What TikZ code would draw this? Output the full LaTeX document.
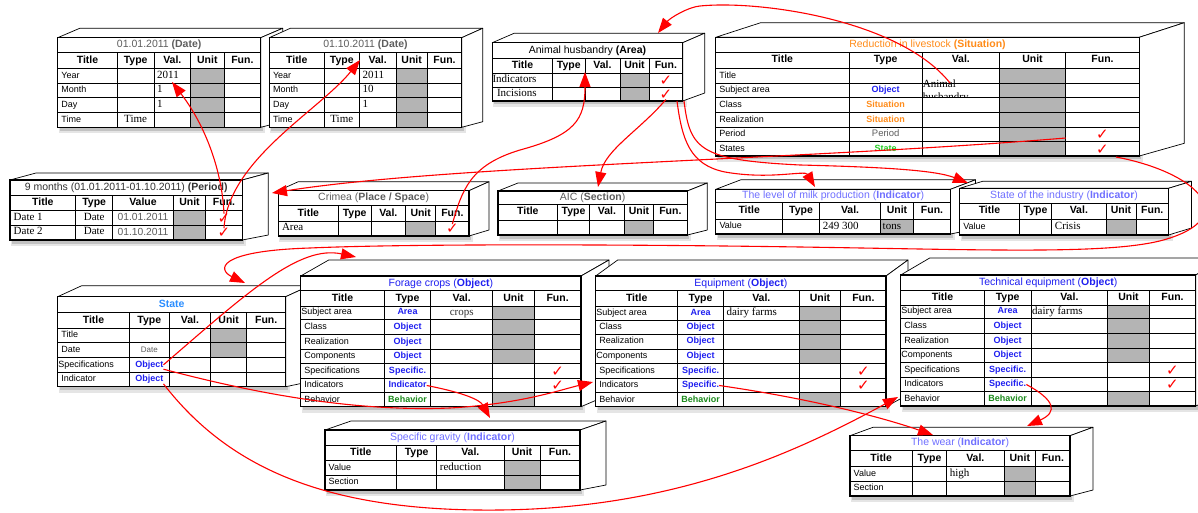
\documentclass[tikz,border=0pt]{standalone}
\usepackage{fontspec}
\setmainfont{Liberation Sans}
\newfontfamily\valfont{Liberation Serif}
\newfontfamily\tickfont{DejaVu Sans}
\usetikzlibrary{arrows.meta}

\definecolor{cellgrey}{HTML}{B4B4B4}
\definecolor{objblue}{HTML}{1F1FF0}
\definecolor{sitorange}{HTML}{FF8C1A}
\definecolor{stgreen}{HTML}{22CC22}
\definecolor{behgreen}{HTML}{1A8A1A}
\definecolor{indviolet}{HTML}{7070FF}
\definecolor{statblue}{HTML}{2B8EFF}
\definecolor{titlegrey}{HTML}{5E5E5E}
\definecolor{linkred}{HTML}{FF0000}

\tikzset{
  boxface/.style={fill=white, draw=black, line width=0.7pt, line join=round},
  frame/.style={draw=black, line width=1.2pt, inner sep=0pt, outer sep=0pt, anchor=north west},
  gridline/.style={draw=black, line width=0.6pt},
  rule/.style={draw=black, line width=1pt},
  hd/.style={font=\fontsize{10.5}{12}\selectfont\bfseries, inner sep=0pt, text height=7.6pt, text depth=2.2pt},
  ttl/.style={font=\fontsize{10.5}{12}\selectfont, inner sep=0pt, text height=7.6pt, text depth=2.2pt},
  lbl/.style={font=\fontsize{9}{10}\selectfont, inner sep=0pt, text height=6.5pt, text depth=1.9pt, anchor=west},
  typ/.style={font=\fontsize{9}{10}\selectfont, inner sep=0pt, text height=6.5pt, text depth=1.9pt},
  val/.style={font=\valfont\fontsize{11}{12}\selectfont, inner sep=0pt, text height=7.3pt, text depth=2.4pt, anchor=west},
  cv/.style={font=\fontsize{10.3}{12}\selectfont, text=titlegrey, inner sep=0pt, text height=7.3pt, text depth=2.2pt},
  clipval/.style={font=\valfont\fontsize{11}{13}\selectfont, inner sep=0pt, align=left, anchor=north west},
  tickmark/.style={font=\tickfont\fontsize{15}{15}\selectfont, text=linkred, inner sep=0pt},
  link/.style={draw=linkred, line width=1.1pt, -{Triangle[length=15pt,width=11pt]}},
}

% type-column markups
\newcommand\tobj[1]{\textcolor{objblue}{\bfseries #1}}
\newcommand\tsit[1]{\textcolor{sitorange}{\bfseries #1}}
\newcommand\tstate[1]{\textcolor{stgreen}{\bfseries #1}}
\newcommand\tbeh[1]{\textcolor{behgreen}{\bfseries #1}}
\newcommand\tplain[1]{\textcolor{titlegrey}{#1}}
\newcommand\servt[1]{{\valfont\fontsize{11}{12}\selectfont #1}}

% column edges of the table being drawn
\newcommand\setcols[6]{\def\cA{#1}\def\cB{#2}\def\cC{#3}\def\cD{#4}\def\cE{#5}\def\cF{#6}}

% shadow and 3D shell: #1 top, #2 bottom, #3 depth, #4 rise of top edge, #5 rise of bottom edge
\newcommand\shell[5]{%
  \fill[black, opacity=0.10] (\cA+1,#1+2) rectangle (\cF+4,#2+6);
  \fill[black, opacity=0.15] (\cA+2,#1+2) rectangle (\cF+2,#2+3.5);
  \filldraw[boxface] (\cA,#1) -- (\cA+#3,#1-#4) -- (\cF+#3,#1-#4) -- (\cF,#1) -- cycle;
  \filldraw[boxface] (\cF,#1) -- (\cF+#3,#1-#4) -- (\cF+#3,#2-#5) -- (\cF,#2) -- cycle;
  \fill[white] (\cA,#1) rectangle (\cF,#2);
}
% grey unit cells between #1 and #2
\newcommand\greycell[2]{\fill[cellgrey] (\cD,#1) rectangle (\cE,#2);}
% grid: #1 title bottom, #2 header bottom, #3 bottom, #4 row lines
\newcommand\grid[4]{%
  \foreach \xx in {\cB,\cC,\cD,\cE} \draw[gridline] (\xx,#1) -- (\xx,#3);
  \foreach \yy in {#4} \draw[gridline] (\cA,\yy) -- (\cF,\yy);
  \draw[rule] (\cA,#1) -- (\cF,#1);
  \draw[rule] (\cA,#2) -- (\cF,#2);
}
\newcommand\tabtitle[3]{\node[ttl] (\tname-t) at ({(\cA+\cF)/2},{(#1+#2)/2}) {#3};}
\newcommand\heads[3]{%
  \node[hd] (\tname-h1) at ({(\cA+\cB)/2},{(#1+#2)/2}) {Title};
  \node[hd] (\tname-h2) at ({(\cB+\cC)/2},{(#1+#2)/2}) {Type};
  \node[hd] (\tname-h3) at ({(\cC+\cD)/2},{(#1+#2)/2}) {#3};
  \node[hd] (\tname-h4) at ({(\cD+\cE)/2},{(#1+#2)/2}) {Unit};
  \node[hd] (\tname-h5) at ({(\cE+\cF)/2},{(#1+#2)/2}) {Fun.};
}
% row: #1 id, #2 top, #3 bottom, #4 label, #5 type, #6 value
\newcommand\tabrow[6]{%
  \def\argt{#5}\def\argv{#6}%
  \node[lbl] (\tname-l#1) at (\cA+3.5,{(#2+#3)/2}) {#4};
  \ifx\argt\empty\else \node[typ] (\tname-y#1) at ({(\cB+\cC)/2},{(#2+#3)/2}) {#5};\fi
  \ifx\argv\empty\else \node[val] (\tname-v#1) at (\cC+3,{(#2+#3)/2}) {#6};\fi
}
\newcommand\cval[4]{\node[cv] (\tname-v#1) at ({(\cC+\cD)/2},{(#2+#3)/2}) {#4};}
\newcommand\funtick[3]{\node[tickmark] (\tname-k#1) at ({(\cE+\cF)/2},{(#2+#3)/2+0.5}) {✓};}
\newcommand\tabframe[2]{\node[frame, minimum width={(\cF-\cA)*1pt}, minimum height={(#2-#1)*1pt}] (\tname) at (\cA,#1) {};}

\begin{document}
\begin{tikzpicture}[x=1pt,y=-1pt]
\useasboundingbox (0,0) rectangle (1198,513);
\fill[white] (0,0) rectangle (1198,513);
\clip (0,0) rectangle (1198,513);

% ---------- 01.01.2011 (Date)
\def\tname{d1}
\setcols{57.7}{117.3}{154}{190.7}{224}{260.7}
\shell{37.7}{127.3}{22}{9.4}{5.6}
\greycell{68.3}{127.3}
\grid{52.7}{68.3}{127.3}{83.3,97.7,112.7}
\tabtitle{37.7}{52.7}{\color{titlegrey}01.01.2011 \textbf{(Date)}}
\heads{52.7}{68.3}{Val.}
\tabrow{1}{68.3}{83.3}{Year}{}{2011}
\tabrow{2}{83.3}{97.7}{Month}{}{1}
\tabrow{3}{97.7}{112.7}{Day}{}{1}
\tabrow{4}{112.7}{127.3}{Time}{\servt{Time}}{}
\tabframe{37.7}{127.3}

% ---------- 01.10.2011 (Date)
\def\tname{d2}
\setcols{269.3}{324.3}{359.3}{396}{427.3}{461.7}
\shell{37.7}{127.3}{21}{9.4}{5.6}
\greycell{68.3}{127.3}
\grid{52.7}{68.3}{127.3}{83.3,97.7,112.7}
\tabtitle{37.7}{52.7}{\color{titlegrey}01.10.2011 \textbf{(Date)}}
\heads{52.7}{68.3}{Val.}
\tabrow{1}{68.3}{83.3}{Year}{}{2011}
\tabrow{2}{83.3}{97.7}{Month}{}{10}
\tabrow{3}{97.7}{112.7}{Day}{}{1}
\tabrow{4}{112.7}{127.3}{Time}{\servt{Time}}{}
\tabframe{37.7}{127.3}

% ---------- Animal husbandry (Area)
\def\tname{ah}
\setcols{492.3}{552.7}{585}{620}{649}{682.7}
\shell{42.7}{101}{22}{9.5}{8}
\greycell{73.3}{101}
\grid{58.3}{73.3}{101}{87.3}
\tabtitle{42.7}{58.3}{Animal husbandry \textbf{(Area)}}
\heads{58.3}{73.3}{Val.}
\tabrow{1}{73.3}{87.3}{\kern-3.5pt\servt{Indicators}}{}{}
\tabrow{2}{87.3}{101}{\kern1pt\servt{Incisions}}{}{}
\funtick{1}{73.3}{87.3}
\funtick{2}{87.3}{101}
\tabframe{42.7}{101}

% ---------- Reduction in livestock (Situation)
\def\tname{rl}
\setcols{715.7}{849}{922.3}{999.3}{1065.7}{1139.3}
\shell{37.3}{156}{45}{14.6}{12.7}
\greycell{68.3}{156}
\grid{52.3}{68.3}{156}{83.3,97.7,112.3,127.3,141.7}
\tabtitle{37.3}{52.3}{\color{sitorange}Reduction in livestock \textbf{(Situation)}}
\heads{52.3}{68.3}{Val.}
\tabrow{1}{68.3}{83.3}{Title}{}{}
\tabrow{2}{83.3}{97.7}{Subject area}{\tobj{Object}}{}
\tabrow{3}{97.7}{112.3}{Class}{\tsit{Situation}}{}
\tabrow{4}{112.3}{127.3}{Realization}{\tsit{Situation}}{}
\tabrow{5}{127.3}{141.7}{Period}{\tplain{\fontsize{9.5}{10}\selectfont Period}}{}
\tabrow{6}{141.7}{156}{States}{\tstate{State}}{}
\begin{scope}
  \clip (922.3,70) rectangle (999.3,97.7);
  \node[clipval] (rl-v2) at (922.6,79.8) {Animal\\husbandry};
\end{scope}
\funtick{5}{127.3}{141.7}
\funtick{6}{141.7}{156}
\tabframe{37.3}{156}

% ---------- 9 months (Period)
\def\tname{pd}
\setcols{10}{75.7}{112.7}{173.3}{205.7}{242.3}
\shell{180}{240}{26}{7}{5}
\greycell{210.7}{240}
\grid{195}{210.7}{240}{225.3}
\tabtitle{180}{195}{\color{black!80}9 months (01.01.2011-01.10.2011) \textbf{(Period)}}
\heads{195}{210.7}{Value}
\tabrow{1}{210.7}{225.3}{\servt{Date 1}}{\servt{Date}}{}
\tabrow{2}{225.3}{240}{\servt{Date 2}}{\servt{Date}}{}
\cval{1}{210.7}{225.3}{01.01.2011}
\cval{2}{225.3}{240}{01.10.2011}
\funtick{1}{210.7}{225.3}
\funtick{2}{225.3}{240}
\tabframe{180}{240}

% ---------- Crimea (Place / Space)
\def\tname{cr}
\setcols{278.3}{338.3}{371}{405.7}{435.7}{469}
\shell{190.7}{236}{20}{9}{6}
\greycell{221}{236}
\grid{205.7}{221}{236}{221}
\tabtitle{190.7}{205.7}{\color{titlegrey}Crimea (\textbf{Place / Space})}
\heads{205.7}{221}{Val.}
\tabrow{1}{221}{236}{\servt{Area}}{}{}
\funtick{1}{221}{236}
\tabframe{190.7}{236}

% ---------- AIC (Section)
\def\tname{aic}
\setcols{498}{557.7}{589.3}{624.5}{653.4}{687.3}
\shell{191}{235}{20}{8}{5}
\greycell{220}{235}
\grid{204.3}{220}{235}{220}
\tabtitle{191}{204.3}{\color{titlegrey}AIC (\textbf{Section})}
\heads{204.3}{220}{Val.}
\tabframe{191}{235}

% ---------- The level of milk production (Indicator)
\def\tname{mk}
\setcols{715.8}{782.6}{819.6}{880.5}{913.5}{950.5}
\shell{189.3}{234}{25}{9.5}{5}
\greycell{219.3}{234}
\grid{202.7}{219.3}{234}{219.3}
\tabtitle{189.3}{202.7}{\color{indviolet}The level of milk production (\textbf{Indicator})}
\heads{202.7}{219.3}{Val.}
\tabrow{1}{219.3}{234}{Value}{}{249 300}
\node[val] (mk-u1) at (\cD+2,226.7) {tons};
\tabframe{189.3}{234}

% ---------- State of the industry (Indicator)
\def\tname{si}
\setcols{959.6}{1019.3}{1051.7}{1106}{1136}{1168.5}
\shell{188.3}{235}{23}{7}{7}
\greycell{219}{235}
\grid{203.3}{219}{235}{219}
\tabtitle{188.3}{203.3}{\color{indviolet}State of the industry (\textbf{Indicator})}
\heads{203.3}{219}{Val.}
\tabrow{1}{219}{235}{Value}{}{Crisis}
\tabframe{188.3}{235}

% ---------- State
\def\tname{st}
\setcols{57.7}{129.3}{169.3}{210.7}{246.7}{285.7}
\shell{296.7}{386.7}{24}{11}{5}
\greycell{328.3}{357.3}
\grid{312.7}{328.3}{386.7}{342.7,357.3,372.3}
\tabtitle{296.7}{312.7}{\color{statblue}\textbf{State}}
\heads{312.7}{328.3}{Val.}
\tabrow{1}{328.3}{342.7}{Title}{}{}
\tabrow{2}{342.7}{357.3}{Date}{\tplain{\fontsize{8}{9}\selectfont Date}}{}
\tabrow{3}{357.3}{372.3}{\kern-3pt Specifications}{\tobj{Object}}{}
\tabrow{4}{372.3}{386.7}{Indicator}{\tobj{Object}}{}
\tabframe{296.7}{386.7}

% ---------- Forage crops (Object)
\def\tname{fc}
\setcols{300.7}{384.3}{430.7}{492.7}{534.3}{581}
\shell{276}{406.7}{28}{16}{12}
\greycell{306}{363.3}
\greycell{392.7}{406.7}
\grid{290.7}{306}{406.7}{319.3,334.3,349.3,363.3,378.3,392.7}
\tabtitle{276}{290.7}{\color{objblue}Forage crops (\textbf{Object})}
\heads{290.7}{306}{Val.}
\tabrow{1}{306}{319.3}{\kern-3pt Subject area}{\tobj{Area}}{}
\cval{1}{306}{319.3}{\servt{\color{black!80}crops}}
\tabrow{2}{319.3}{334.3}{Class}{\tobj{Object}}{}
\tabrow{3}{334.3}{349.3}{Realization}{\tobj{Object}}{}
\tabrow{4}{349.3}{363.3}{Components}{\tobj{Object}}{}
\tabrow{5}{363.3}{378.3}{Specifications}{\tobj{Specific.}}{}
\tabrow{6}{378.3}{392.7}{Indicators}{\tobj{Indicator}}{}
\tabrow{7}{392.7}{406.7}{Behavior}{\tbeh{Behavior}}{}
\funtick{5}{363.3}{378.3}
\funtick{6}{378.3}{392.7}
\tabframe{276}{406.7}

% ---------- Equipment (Object)
\def\tname{eq}
\setcols{595.7}{677.7}{723.3}{799.3}{840.7}{886}
\shell{276}{406.7}{22}{16}{12}
\greycell{306}{363.3}
\greycell{392.7}{406.7}
\grid{290.7}{306}{406.7}{320,334.3,349,363.3,378.3,392.7}
\tabtitle{276}{290.7}{\color{objblue}Equipment (\textbf{Object})}
\heads{290.7}{306}{Val.}
\tabrow{1}{306}{320}{\kern-3pt Subject area}{\tobj{Area}}{dairy farms}
\tabrow{2}{320}{334.3}{Class}{\tobj{Object}}{}
\tabrow{3}{334.3}{349}{Realization}{\tobj{Object}}{}
\tabrow{4}{349}{363.3}{\kern-3pt Components}{\tobj{Object}}{}
\tabrow{5}{363.3}{378.3}{Specifications}{\tobj{Specific.}}{}
\tabrow{6}{378.3}{392.7}{Indicators}{\tobj{Specific.}}{}
\tabrow{7}{392.7}{406.7}{Behavior}{\tbeh{Behavior}}{}
\funtick{5}{363.3}{378.3}
\funtick{6}{378.3}{392.7}
\tabframe{276}{406.7}

% ---------- Technical equipment (Object)
\def\tname{te}
\setcols{900.7}{984.3}{1031}{1107.7}{1149.3}{1195.7}
\shell{275}{406}{29}{17}{12}
\greycell{305}{362.3}
\greycell{391.7}{406}
\grid{290}{305}{406}{318.3,333.3,348.3,362.3,377.3,391.7}
\tabtitle{275}{290}{\color{objblue}Technical equipment (\textbf{Object})}
\heads{290}{305}{Val.}
\tabrow{1}{305}{318.3}{\kern-3pt Subject area}{\tobj{Area}}{\kern-2pt dairy farms}
\tabrow{2}{318.3}{333.3}{Class}{\tobj{Object}}{}
\tabrow{3}{333.3}{348.3}{Realization}{\tobj{Object}}{}
\tabrow{4}{348.3}{362.3}{\kern-3pt Components}{\tobj{Object}}{}
\tabrow{5}{362.3}{377.3}{Specifications}{\tobj{Specific.}}{}
\tabrow{6}{377.3}{391.7}{Indicators}{\tobj{Specific.}}{}
\tabrow{7}{391.7}{406}{Behavior}{\tbeh{Behavior}}{}
\funtick{5}{362.3}{377.3}
\funtick{6}{377.3}{391.7}
\tabframe{275}{406}

% ---------- Specific gravity (Indicator)
\def\tname{sg}
\setcols{325}{396.7}{436.7}{504}{540}{580}
\shell{430}{490}{26}{9}{5}
\greycell{460.7}{490}
\grid{445}{460.7}{490}{475.3}
\tabtitle{430}{445}{\color{indviolet}Specific gravity (\textbf{Indicator})}
\heads{445}{460.7}{Val.}
\tabrow{1}{460.7}{475.3}{Value}{}{reduction}
\tabrow{2}{475.3}{490}{Section}{}{}
\tabframe{430}{490}

% ---------- The wear (Indicator)
\def\tname{wr}
\setcols{850}{912.3}{946.7}{1004}{1035.7}{1070}
\shell{435.7}{496}{23}{8.4}{6}
\greycell{466.7}{496}
\grid{450.7}{466.7}{496}{481}
\tabtitle{435.7}{450.7}{\color{indviolet}The wear (\textbf{Indicator})}
\heads{450.7}{466.7}{Val.}
\tabrow{1}{466.7}{481}{Value}{}{high}
\tabrow{2}{481}{496}{Section}{}{}
\tabframe{435.7}{496}

% ---------- link end points
\coordinate (d1year)  at (172,82);
\coordinate (d2title) at (360,60);
\coordinate (ahHead)  at (585,72);
\coordinate (ahLid)   at (658,33);
\coordinate (ahOutA)  at (677,101);
\coordinate (ahOutB)  at (684,101);
\coordinate (aicLid)  at (598,187);
\coordinate (mkLid)   at (815,187);
\coordinate (siLid)   at (968,183);
\coordinate (rlValue) at (950,83);
\coordinate (rlPeriod) at (1065.7,138);
\coordinate (rlStates) at (1116,157);
\coordinate (pdSide)  at (272,193);
\coordinate (stLid)   at (245,283);
\coordinate (fcLid)   at (356,257);
\coordinate (eqSide)  at (593,382);
\coordinate (teSide)  at (898,397);
\coordinate (sgLid)   at (490,418);
\coordinate (wrLidA)  at (933,435);
\coordinate (wrLidB)  at (1027,426);

% ---------- links
\draw[link] (pd-k1.north) .. controls (222,170) and (205,125) .. (d1year);
\draw[link] (pd-k2.north) .. controls (228,160) and (320,110) .. (d2title);
\draw[link] (cr-k1.north) .. controls (462,190) and (470,165) .. (520,150)
            .. controls (575,135) and (585,120) .. (ahHead);
\draw[link] (ah-k2.south) .. controls (640,130) and (605,150) .. (aicLid);
\draw[link] (ahOutA) .. controls (682,140) and (690,165) .. (725,172)
            .. controls (770,180) and (805,170) .. (mkLid);
\draw[link] (ahOutB) .. controls (690,150) and (700,160) .. (800,165)
            .. controls (880,167) and (935,170) .. (siLid);
\draw[link] (rlValue) .. controls (900,20) and (760,0) .. (700,6)
            .. controls (688,7) and (670,18) .. (ahLid);
\draw[link] (rlPeriod) .. controls (800,160) and (450,165) .. (pdSide);
\draw[link] (rlStates) .. controls (1195,172) and (1240,215) .. (1170,238)
            .. controls (1120,255) and (1000,250) .. (800,247)
            .. controls (600,244) and (400,244) .. (310,248)
            .. controls (215,251) and (218,270) .. (stLid);
\draw[link] (st-y3.east) .. controls (250,290) and (300,245) .. (fcLid);
\draw[link] (st-y3.south east) .. controls (250,392) and (350,412) .. (450,408)
            .. controls (520,404) and (560,390) .. (eqSide);
\draw[link] (st-y4.south east) .. controls (230,470) and (330,512) .. (500,510)
            .. controls (680,508) and (800,450) .. (teSide);
\draw[link] (fc-y6.east) .. controls (465,393) and (480,400) .. (sgLid);
\draw[link] (eq-y6.east) .. controls (820,400) and (890,420) .. (wrLidA);
\draw[link] (te-y6.east) .. controls (1055,400) and (1058,412) .. (wrLidB);
\end{tikzpicture}
\end{document}
